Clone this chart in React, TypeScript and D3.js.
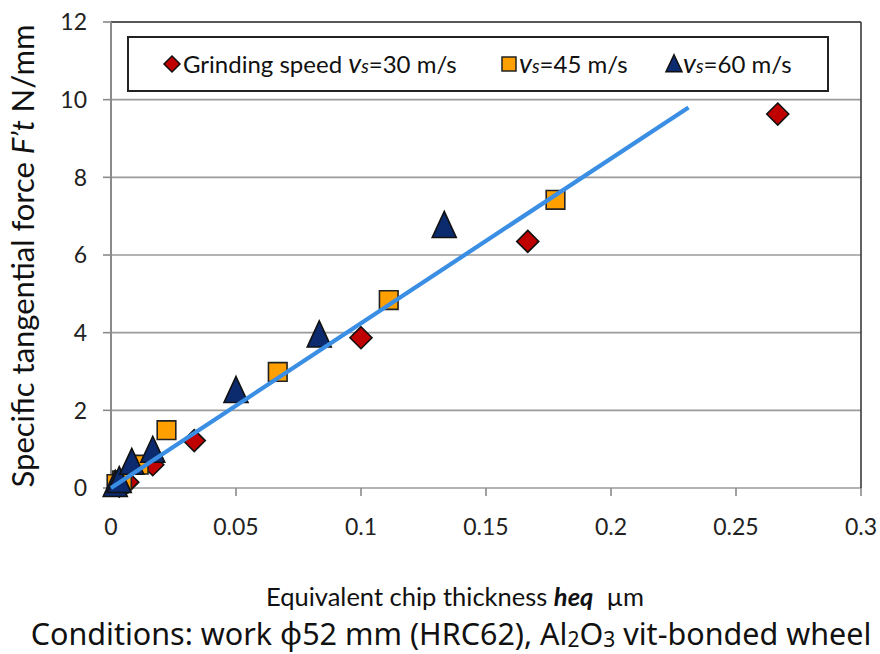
import { scaleLinear, line } from "d3";

const xTicks = [0, 0.05, 0.1, 0.15, 0.2, 0.25, 0.3];
const xTickLabels = ["0", "0.05", "0.1", "0.15", "0.2", "0.25", "0.3"];
const yTicks = [0, 2, 4, 6, 8, 10, 12];

// heq (µm) and F't (N/mm)
const heq30 = [0.0033, 0.0067, 0.0167, 0.0333, 0.1, 0.1667, 0.2667];
const ft30 = [0.05, 0.15, 0.6, 1.22, 3.87, 6.35, 9.63];
const heq45 = [0.0022, 0.0044, 0.0111, 0.0222, 0.0667, 0.1111, 0.1778];
const ft45 = [0.1, 0.2, 0.6, 1.49, 2.99, 4.84, 7.42];
const heq60 = [0.0017, 0.0033, 0.0083, 0.0167, 0.05, 0.0833, 0.1333];
const ft60 = [0.05, 0.15, 0.62, 0.93, 2.47, 3.9, 6.72];

const trendX = [0, 0.231];
const trendY = [0, 9.8];

const FONT = "Lato, 'Open Sans', sans-serif";

const diamond = (s: number) => `M0,${-s}L${s},0L0,${s}L${-s},0Z`;
const square = (s: number) => `M${-s},${-s}H${s}V${s}H${-s}Z`;
const triangle = (w: number, h: number) => `M0,${-h * 0.6}L${w / 2},${h * 0.4}L${-w / 2},${h * 0.4}Z`;

export default function App() {
  const left = 111, right = 861, top = 22, bottom = 488;
  const x = scaleLinear().domain([0, 0.3]).range([left, right]);
  const y = scaleLinear().domain([0, 12]).range([bottom, top]);
  const trend = line<number>()
    .x((d) => x(d))
    .y((_, i) => y(trendY[i]));

  return (
    <svg width={880} height={654} style={{ position: "absolute", left: 0, top: 0, background: "#fff" }}>
      {/* grid */}
      {yTicks.map((t) => (
        <line key={`g${t}`} x1={left} x2={right} y1={y(t)} y2={y(t)} stroke="#9a9a9a" strokeWidth={1.6} />
      ))}
      <line x1={left} x2={right} y1={top} y2={top} stroke="#3a3a3a" strokeWidth={1.6} />
      <line x1={right} x2={right} y1={top} y2={bottom} stroke="#3a3a3a" strokeWidth={1.6} />
      <line x1={left} x2={left} y1={top} y2={bottom} stroke="#8a8a8a" strokeWidth={2} />

      {/* ticks */}
      {yTicks.map((t) => (
        <g key={`yt${t}`}>
          <line x1={left - 8} x2={left} y1={y(t)} y2={y(t)} stroke="#8a8a8a" strokeWidth={1.6} />
          <text x={87} y={y(t)} dy="0.36em" textAnchor="end" fontSize={23} fontFamily={FONT} fill="#222">
            {t}
          </text>
        </g>
      ))}
      {xTicks.map((t, i) => (
        <g key={`xt${t}`}>
          <line x1={x(t)} x2={x(t)} y1={bottom} y2={bottom + 8} stroke="#8a8a8a" strokeWidth={1.6} />
          <text x={x(t)} y={527} dy="0.36em" textAnchor="middle" fontSize={23} fontFamily={FONT} fill="#222">
            {xTickLabels[i]}
          </text>
        </g>
      ))}

      {/* series */}
      {heq30.map((v, i) => (
        <path key={`a${i}`} d={diamond(11)} transform={`translate(${x(v)},${y(ft30[i])})`} fill="#c00000" stroke="#111" strokeWidth={1.6} />
      ))}
      {heq45.map((v, i) => (
        <path key={`b${i}`} d={square(9.3)} transform={`translate(${x(v)},${y(ft45[i])})`} fill="#ffa000" stroke="#222" strokeWidth={1.6} />
      ))}
      {heq60.map((v, i) => (
        <path key={`c${i}`} d={triangle(24, 26)} transform={`translate(${x(v)},${y(ft60[i])})`} fill="#0c2a6e" stroke="#111" strokeWidth={1.6} />
      ))}

      <path d={trend(trendX) ?? ""} fill="none" stroke="#3a8ee4" strokeWidth={4.2} />

      {/* legend */}
      <rect x={128} y={37} width={700} height={54} fill="#fff" stroke="#222" strokeWidth={2} />
      <path d={diamond(8)} transform="translate(172,64)" fill="#c00000" stroke="#111" strokeWidth={1.5} />
      <text x={183} y={73} fontSize={24} fontFamily={FONT} fill="#111">
        Grinding speed <tspan fontStyle="italic" fontSize={27}>v</tspan>
        <tspan fontStyle="italic" fontSize={19}>s</tspan>=30 m/s
      </text>
      <path d={square(7)} transform="translate(509,64)" fill="#ffa000" stroke="#222" strokeWidth={1.5} />
      <text x={519} y={73} fontSize={24} fontFamily={FONT} fill="#111">
        <tspan fontStyle="italic" fontSize={27}>v</tspan>
        <tspan fontStyle="italic" fontSize={19}>s</tspan>=45 m/s
      </text>
      <path d={triangle(16, 17)} transform="translate(674,65)" fill="#0c2a6e" stroke="#111" strokeWidth={1.5} />
      <text x={683} y={73} fontSize={24} fontFamily={FONT} fill="#111">
        <tspan fontStyle="italic" fontSize={27}>v</tspan>
        <tspan fontStyle="italic" fontSize={19}>s</tspan>=60 m/s
      </text>

      {/* axis titles */}
      <text transform="translate(34,256) rotate(-90)" textAnchor="middle" fontSize={31} fontFamily={FONT} fill="#111">
        Specific tangential force <tspan fontStyle="italic">F’t</tspan> N/mm
      </text>
      <text x={455} y={606} textAnchor="middle" fontSize={25.5} fontFamily={FONT} fill="#111">
        Equivalent chip thickness <tspan fontStyle="italic" fontWeight="bold">heq</tspan>{"\u00a0 µm"}
      </text>
      <text x={451} y={645} textAnchor="middle" fontSize={30.5} fontFamily="'Noto Sans', sans-serif" fill="#111">
        Conditions: work ϕ52 mm (HRC62), Al<tspan fontSize={21} dy={2}>2</tspan>
        <tspan dy={-2}>O</tspan>
        <tspan fontSize={21} dy={2}>3</tspan>
        <tspan dy={-2}> vit-bonded wheel</tspan>
      </text>
    </svg>
  );
}
